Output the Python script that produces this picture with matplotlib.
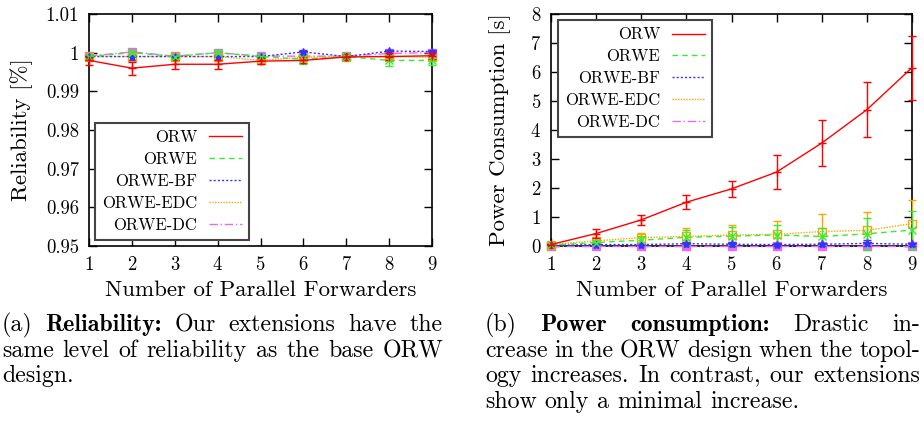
import numpy as np
import matplotlib
matplotlib.use('Agg')
import matplotlib.pyplot as plt
from matplotlib.lines import Line2D

plt.rcParams['font.family'] = 'cmr10'
plt.rcParams['axes.formatter.use_mathtext'] = True
plt.rcParams['mathtext.fontset'] = 'cm'

forwarders = [1, 2, 3, 4, 5, 6, 7, 8, 9]
series = ['ORW', 'ORWE', 'ORWE-BF', 'ORWE-EDC', 'ORWE-DC']

# reliability (mean, error)
rel_orw = [0.998, 0.996, 0.997, 0.997, 0.9978, 0.998, 0.9989, 0.999, 0.9992]
rel_orw_err = [0.0012, 0.0017, 0.0012, 0.0011, 0.0008, 0.0008, 0.0008, 0.0008, 0.0008]
rel_orwe = [0.999, 1.0, 0.999, 1.0, 0.999, 0.9983, 0.999, 0.998, 0.998]
rel_orwe_err = [0.0006, 0.0006, 0.0005, 0.0006, 0.0006, 0.0012, 0.0008, 0.0015, 0.0012]
rel_bf = [0.999, 0.999, 0.999, 0.999, 0.999, 1.0002, 0.999, 1.0004, 1.0003]
rel_bf_err = [0.0005, 0.0008, 0.0005, 0.0008, 0.0005, 0.0005, 0.0006, 0.0004, 0.0004]
rel_edc = [0.999, 0.999, 0.999, 0.999, 0.998, 0.9988, 0.999, 0.999, 0.9988]
rel_edc_err = [0.0008, 0.0008, 0.0005, 0.0008, 0.0008, 0.0005, 0.0005, 0.0006, 0.0008]
rel_dc = [0.9991, 1.0002, 0.9991, 1.0, 0.9991, 0.9991, 0.9991, 0.9998, 1.0]
rel_dc_err = [0.0004, 0.0004, 0.0004, 0.0004, 0.0004, 0.0004, 0.0004, 0.0004, 0.0004]

# power consumption [s] (mean, error)
pw_orw = [0.05, 0.43, 0.9, 1.51, 1.97, 2.55, 3.55, 4.7, 6.15]
pw_orw_err = [0.02, 0.17, 0.18, 0.25, 0.27, 0.6, 0.78, 0.95, 1.1]
pw_orwe = [0.03, 0.12, 0.2, 0.3, 0.34, 0.38, 0.33, 0.42, 0.55]
pw_orwe_err = [0.01, 0.08, 0.15, 0.25, 0.3, 0.35, 0.3, 0.55, 0.65]
pw_bf = [0.02, 0.05, 0.05, 0.08, 0.06, 0.05, 0.06, 0.09, 0.06]
pw_bf_err = [0.01, 0.03, 0.03, 0.05, 0.07, 0.04, 0.05, 0.1, 0.05]
pw_edc = [0.05, 0.18, 0.29, 0.33, 0.38, 0.40, 0.50, 0.54, 0.77]
pw_edc_err = [0.02, 0.1, 0.17, 0.28, 0.36, 0.47, 0.62, 0.62, 0.83]
pw_dc = [0.01, 0.01, 0.01, 0.01, 0.01, 0.01, 0.01, 0.01, 0.01]
pw_dc_err = [0.01, 0.01, 0.01, 0.01, 0.01, 0.01, 0.01, 0.01, 0.01]

colors = ['#ff0000', '#33ee33', '#3333ff', '#ffa500', '#ee66ee']
styles = ['-', (0, (4, 3)), (0, (1.5, 1.5)), (0, (1, 1)), (0, (6, 2, 1, 2))]
markers = ['+', 'x', '*', 's', 's']
mfill = ['full', 'full', 'full', 'none', 'full']

W, H = 924, 428
fig = plt.figure(figsize=(W / 100, H / 100), dpi=100)
ax1 = fig.add_axes([89 / W, 1 - 246 / H, 343 / W, 232 / H])
ax2 = fig.add_axes([551 / W, 1 - 246 / H, 361 / W, 232 / H])

rel = [(rel_orw, rel_orw_err), (rel_orwe, rel_orwe_err), (rel_bf, rel_bf_err),
       (rel_edc, rel_edc_err), (rel_dc, rel_dc_err)]
pw = [(pw_orw, pw_orw_err), (pw_orwe, pw_orwe_err), (pw_bf, pw_bf_err),
      (pw_edc, pw_edc_err), (pw_dc, pw_dc_err)]

for ax, data in [(ax1, rel), (ax2, pw)]:
    for i, (y, e) in enumerate(data):
        ax.errorbar(forwarders, y, yerr=e, color=colors[i], ls=styles[i],
                    lw=1.0, marker=markers[i], ms=6, fillstyle=mfill[i],
                    mew=1.0, capsize=3, elinewidth=1.0, capthick=1.0,
                    clip_on=False, zorder=3 + (4 - i) * 0.1)
    ax.set_xlim(1, 9)
    ax.set_xticks(forwarders)
    ax.tick_params(direction='in', top=True, right=True, length=6,
                   width=1, labelsize=13.5, pad=7)
    for s in ax.spines.values():
        s.set_linewidth(1.2)
    ax.set_xlabel('Number of Parallel Forwarders', fontsize=16.5, labelpad=5)
    handles = [Line2D([], [], color=colors[i], ls=styles[i], lw=1.0)
               for i in range(5)]
    if ax is ax1:
        loc, anchor = 'lower left', (0.017, 0.026)
    else:
        loc, anchor = 'upper left', (0.019, 0.974)
    leg = ax.legend(handles, series, loc=loc, bbox_to_anchor=anchor,
                    borderaxespad=0, markerfirst=False, fontsize=12,
                    handlelength=2.0, labelspacing=0.4, handletextpad=0.7,
                    borderpad=0.42, fancybox=False, framealpha=1,
                    edgecolor='#444444')
    leg.get_frame().set_linewidth(1.5)

ax1.set_ylim(0.95, 1.01)
ticks1 = [0.95, 0.96, 0.97, 0.98, 0.99, 1.0, 1.01]
ax1.set_yticks(ticks1)
ax1.set_yticklabels(['0.95', '0.96', '0.97', '0.98', '0.99', '1', '1.01'])
ax1.set_ylabel('Reliability [%]', fontsize=16.5, labelpad=9)

ax2.set_ylim(0, 8)
ax2.set_yticks(range(0, 9))
ax2.set_ylabel('Power Consumption [s]', fontsize=16.5, labelpad=14)

# captions, justified word by word
renderer = fig.canvas.get_renderer()
cap_size = 17.2


def text_width(s, family):
    t = fig.text(0, 0, s, fontsize=cap_size, family=family)
    w = t.get_window_extent(renderer).width
    t.remove()
    return w


space_w = text_width('a b', 'cmr10') - text_width('ab', 'cmr10')


def put_line(words, x0, x1, y, justify=True):
    items = []
    for w, bold in words:
        t = fig.text(x0 / W, 1 - y / H, w, fontsize=cap_size,
                     family='cmb10' if bold else 'cmr10', va='baseline')
        items.append(t)
    widths = [t.get_window_extent(renderer).width for t in items]
    if justify and len(items) > 1:
        gap = (x1 - x0 - sum(widths)) / (len(items) - 1)
    else:
        gap = space_w
    x = x0
    for t, w in zip(items, widths):
        t.set_x(x / W)
        x += w + gap


def words(s, bold=()):
    return [(w, w in bold) for w in s.split()]


put_line(words('(a) Reliability: Our extensions have the', ('Reliability:',)),
         2, 443, 331)
put_line(words('same level of reliability as the base ORW'), 2, 443, 357)
put_line(words('design.'), 2, 443, 382, justify=False)

put_line(words('(b) Power consumption: Drastic in-',
               ('Power', 'consumption:')), 485, 920, 331)
put_line(words('crease in the ORW design when the topol-'), 485, 920, 357)
put_line(words('ogy increases. In contrast, our extensions'), 485, 920, 382)
put_line(words('show only a minimal increase.'), 485, 920, 408, justify=False)

fig.savefig('out.png', dpi=100)
